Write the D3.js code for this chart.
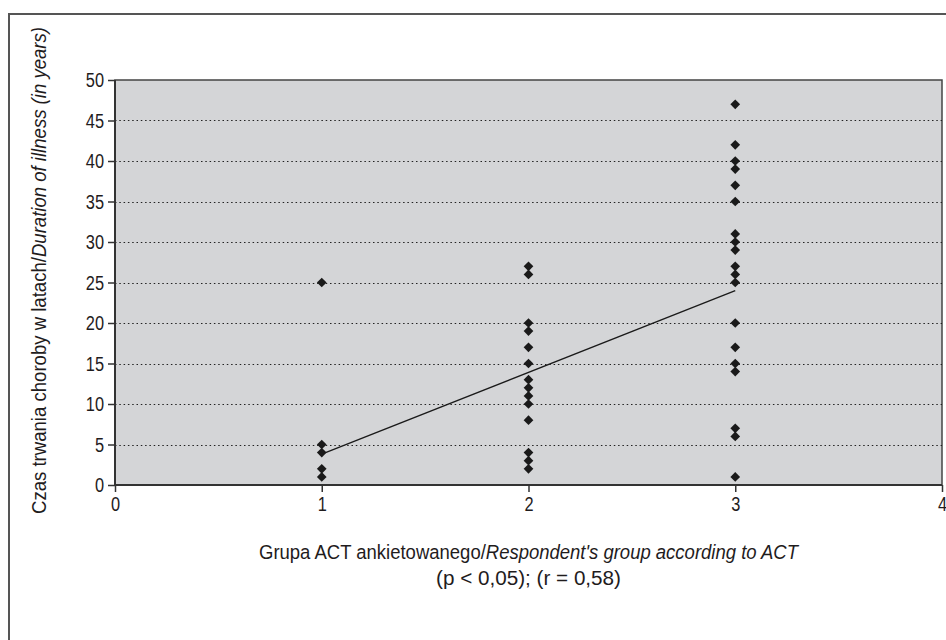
<!DOCTYPE html>
<html>
<head>
<meta charset="utf-8">
<script src="https://cdn.jsdelivr.net/npm/d3@7.9.0/dist/d3.min.js"></script>
<style>
  body { margin: 0; background: #fff; }
  svg text { font-family: "Liberation Sans", Arial, sans-serif; fill: #1f1c1d; }
</style>
</head>
<body>
<script>
// Duration of illness (years) per ACT group
const group1 = [25, 5, 4, 2, 1];
const group2 = [27, 26, 20, 19, 17, 15, 13, 12, 11, 10, 8, 4, 3, 2];
const group3 = [47, 42, 40, 39, 37, 35, 31, 30, 29, 27, 26, 25, 20, 17, 15, 14, 7, 6, 1];
const groups = [1, 2, 3];
const trend = [[1, 3.8], [3, 24]];
const xTicks = [0, 1, 2, 3, 4];
const yTicks = [0, 5, 10, 15, 20, 25, 30, 35, 40, 45, 50];

const width = 946, height = 640;
const margin = { top: 80, right: 4, bottom: 155, left: 115 };
const squeeze = 0.78; // condensed look of the original typeface

const svg = d3.select("body").append("svg")
    .attr("width", width)
    .attr("height", height);

// outer frame (only top and left visible in picture)
svg.append("path")
    .attr("d", `M9,${height + 5}V14H${width + 5}`)
    .attr("fill", "none")
    .attr("stroke", "#555")
    .attr("stroke-width", 2);

const x = d3.scaleLinear().domain([0, 4]).range([margin.left, width - margin.right]);
const y = d3.scaleLinear().domain([0, 50]).range([height - margin.bottom, margin.top]);

// plot background
svg.append("rect")
    .attr("x", x(0))
    .attr("y", y(50))
    .attr("width", x(4) - x(0))
    .attr("height", y(0) - y(50))
    .attr("fill", "#d4d5d7")
    .attr("stroke", "#444")
    .attr("stroke-width", 1.5);

// dotted gridlines
svg.append("g")
    .selectAll("line")
    .data(yTicks.filter(d => d > 0 && d < 50))
    .enter().append("line")
    .attr("x1", x(0))
    .attr("x2", x(4))
    .attr("y1", d => Math.round(y(d)) + 0.5)
    .attr("y2", d => Math.round(y(d)) + 0.5)
    .attr("stroke", "#222")
    .attr("stroke-width", 1.2)
    .attr("stroke-dasharray", "1.5 2.8");

// axes
const yAxis = svg.append("g")
    .attr("transform", `translate(${x(0)},0)`)
    .call(d3.axisLeft(y).tickValues(yTicks).tickFormat(d3.format("d")).tickSize(7).tickPadding(4));

const xAxis = svg.append("g")
    .attr("transform", `translate(0,${y(0)})`)
    .call(d3.axisBottom(x).tickValues(xTicks).tickFormat(d3.format("d")).tickSize(7).tickPadding(4));

[yAxis, xAxis].forEach(g => {
    g.select(".domain").attr("stroke", "#333").attr("stroke-width", 2);
    g.selectAll(".tick line").attr("stroke", "#333").attr("stroke-width", 1.5);
    g.selectAll(".tick text")
        .style("font-size", "21px")
        .attr("fill", "#1f1c1d");
});
yAxis.selectAll(".tick text")
    .attr("x", -11 / squeeze)
    .attr("transform", `scale(${squeeze},1)`);
xAxis.selectAll(".tick text")
    .attr("transform", `scale(${squeeze},1)`);
xAxis.select(".domain").attr("d", `M${x(0)},0H${x(4)}`);
yAxis.select(".domain").attr("d", `M0,${y(0)}V${y(50)}`);

// trend line
svg.append("line")
    .attr("x1", x(trend[0][0]))
    .attr("y1", y(trend[0][1]))
    .attr("x2", x(trend[1][0]))
    .attr("y2", y(trend[1][1]))
    .attr("stroke", "#1a1a1a")
    .attr("stroke-width", 1.3);

// points
const points = [];
[group1, group2, group3].forEach((vals, i) => {
    vals.forEach(v => points.push({ g: groups[i], v: v }));
});

const diamond = d3.symbol().type(d3.symbolDiamond2).size(60);
svg.append("g")
    .selectAll("path")
    .data(points)
    .enter().append("path")
    .attr("d", diamond)
    .attr("transform", d => `translate(${x(d.g)},${y(d.v)})`)
    .attr("fill", "#1a1a1a");

// y title
const yTitle = svg.append("text")
    .attr("transform", `translate(46,270.5) rotate(-90)`)
    .attr("text-anchor", "middle")
    .attr("textLength", 487)
    .attr("lengthAdjust", "spacingAndGlyphs")
    .style("font-size", "19.5px");
yTitle.append("tspan").text("Czas trwania choroby w latach/");
yTitle.append("tspan").style("font-style", "italic").text("Duration of illness (in years)");

// x title
const xTitle = svg.append("text")
    .attr("x", (x(0) + x(4)) / 2)
    .attr("y", 559)
    .attr("text-anchor", "middle")
    .attr("textLength", 539)
    .attr("lengthAdjust", "spacingAndGlyphs")
    .style("font-size", "20.5px");
xTitle.append("tspan").text("Grupa ACT ankietowanego/");
xTitle.append("tspan").style("font-style", "italic").text("Respondent's group according to ACT");

svg.append("text")
    .attr("x", (x(0) + x(4)) / 2)
    .attr("y", 585)
    .attr("text-anchor", "middle")
    .attr("textLength", 185)
    .attr("lengthAdjust", "spacingAndGlyphs")
    .style("font-size", "20.5px")
    .text("(p < 0,05); (r = 0,58)");
</script>
</body>
</html>
